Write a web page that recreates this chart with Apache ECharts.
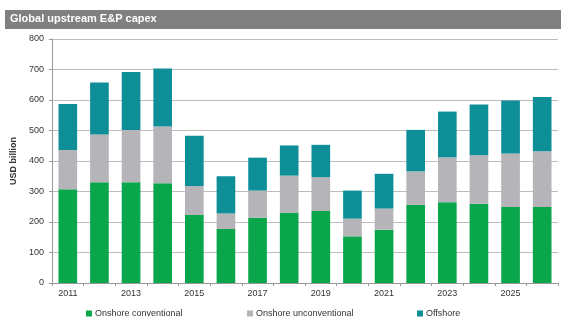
<!DOCTYPE html>
<html><head><meta charset="utf-8">
<script src="https://cdn.jsdelivr.net/npm/echarts@6/dist/echarts.min.js"></script>
<style>html,body{margin:0;padding:0;background:#fff}#c{width:561px;height:327px}</style>
</head><body><div id="c"></div>
<script>
const years = ['2011','2012','2013','2014','2015','2016','2017','2018','2019','2020','2021','2022','2023','2024','2025','2026'];
const onshoreConventional = [307,330,330,327,223,177,214,230,236,153,175,256,265,260,249,249];
const onshoreUnconventional = [129,157,172,186,95,51,89,122,111,58,69,110,147,159,176,183];
const offshore = [151,170,190,190,165,122,108,99,106,92,114,136,150,166,173,178];
const seriesNames = ['Onshore conventional','Onshore unconventional','Offshore'];
const colors = ['#0aa64c','#b4b4b9','#0e8f98'];

const chart = echarts.init(document.getElementById('c'));
const font = 'Liberation Sans, Arial, sans-serif';
chart.setOption({
  animation:false,
  graphic:[
    {type:'rect',shape:{x:5,y:10,width:556,height:19},style:{fill:'#808080'}},
    {type:'text',left:10,top:13,style:{text:'Global upstream E&P capex',fill:'#fff',font:'bold 11px '+font}}
  ],
  grid:{left:52,right:3,top:39,bottom:44},
  legend:[0,1,2].map((i)=>({
    data:[seriesNames[i]], bottom:4, left:[81,242,412][i],
    itemWidth:6,itemHeight:6,itemGap:3,icon:'rect',
    textStyle:{fontSize:9,color:'#333',fontFamily:font,padding:[0,0,0,-2]}
  })),
  xAxis:{type:'category',data:years,
    axisLine:{lineStyle:{color:'#999'}},
    axisTick:{show:true,alignWithLabel:false,interval:0,length:3,lineStyle:{color:'#999'}},
    axisLabel:{interval:1,fontSize:9,color:'#333',fontFamily:font,margin:6}},
  yAxis:{type:'value',min:0,max:800,interval:100,
    name:'USD billion',nameLocation:'middle',nameGap:33,nameRotate:90,
    nameTextStyle:{fontSize:9,fontWeight:'bold',color:'#333',fontFamily:font},
    axisLine:{show:true,lineStyle:{color:'#999'}},
    axisTick:{show:true,length:3,lineStyle:{color:'#999'}},
    splitLine:{lineStyle:{color:'#bdbdbd'}},
    axisLabel:{fontSize:9,color:'#333',fontFamily:font,margin:8}},
  series:[onshoreConventional,onshoreUnconventional,offshore].map((d,i)=>({
    name:seriesNames[i],type:'bar',stack:'t',data:d,barWidth:'59%',
    itemStyle:{color:colors[i]}
  }))
});
</script></body></html>
